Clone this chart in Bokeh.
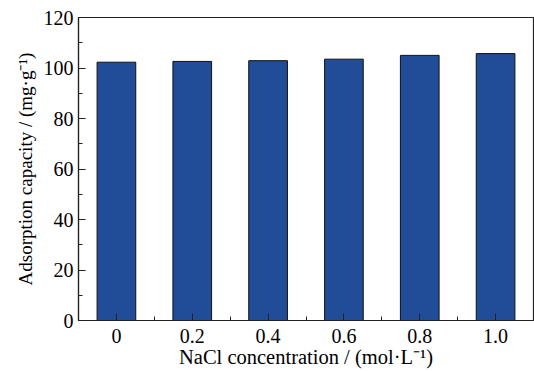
from bokeh.plotting import figure
from bokeh.models import ColumnDataSource, Range1d, FixedTicker
from bokeh.embed import file_html
from bokeh.resources import INLINE

conc = [0.0, 0.2, 0.4, 0.6, 0.8, 1.0]
conc_labels = ["0", "0.2", "0.4", "0.6", "0.8", "1.0"]
capacity = [102.3, 102.6, 102.9, 103.5, 105.0, 105.7]
x_minor = [0.1, 0.3, 0.5, 0.7, 0.9]
y_ticks = [0, 20, 40, 60, 80, 100, 120]
y_minor = [10, 30, 50, 70, 90, 110]

FONT = "Liberation Serif"

src = ColumnDataSource(dict(conc=conc, capacity=capacity))

p = figure(width=534, height=371, output_backend="svg", toolbar_location=None,
           x_range=Range1d(-0.1, 1.1), y_range=Range1d(0, 120),
           min_border_left=78, min_border_right=1, min_border_top=17, min_border_bottom=51)

p.vbar(x="conc", top="capacity", bottom=0, width=0.102, source=src,
       fill_color="#214C98", line_color="#111111", line_width=1)

p.xgrid.visible = False
p.ygrid.visible = False
p.outline_line_color = "#222222"
p.outline_line_width = 1.2
p.background_fill_color = "white"
p.border_fill_color = "white"

xa = p.xaxis[0]
xa.ticker = FixedTicker(ticks=conc, minor_ticks=x_minor)
xa.major_label_overrides = {c: l for c, l in zip(conc, conc_labels)}
xa.axis_label = "NaCl concentration / (mol·L⁻¹)"

ya = p.yaxis[0]
ya.ticker = FixedTicker(ticks=y_ticks, minor_ticks=y_minor)
ya.axis_label = "Adsorption capacity / (mg·g⁻¹)"

for ax in (xa, ya):
    ax.major_tick_in = 7
    ax.major_tick_out = 0
    ax.minor_tick_in = 4
    ax.minor_tick_out = 0
    ax.axis_line_color = "#222222"
    ax.axis_line_width = 1.2
    ax.major_tick_line_color = "#222222"
    ax.minor_tick_line_color = "#222222"
    ax.major_label_text_font = FONT
    ax.axis_label_text_font = FONT
    ax.axis_label_text_font_style = "normal"
    ax.axis_label_text_color = "black"
    ax.major_label_text_color = "black"

xa.axis_label_text_font_size = "20.5px"
ya.axis_label_text_font_size = "19px"
xa.major_label_text_font_size = "20px"
ya.major_label_text_font_size = "20px"
xa.major_label_standoff = 8
ya.major_label_standoff = 5
xa.axis_label_standoff = 0
ya.axis_label_standoff = 5

open("out.html", "w").write(file_html(p, INLINE))
